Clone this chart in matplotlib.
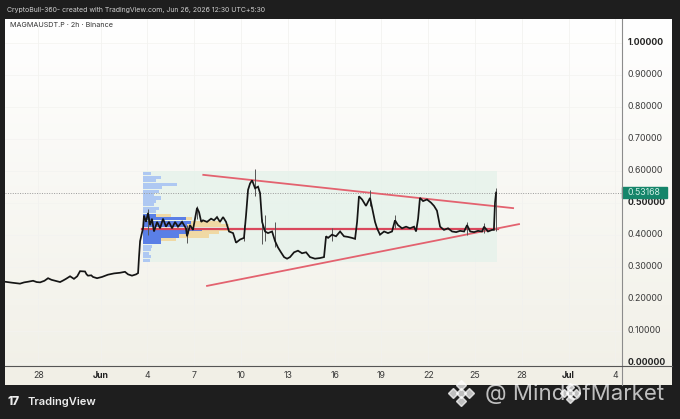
import numpy as np
import matplotlib
matplotlib.use("Agg")
from matplotlib import pyplot as plt

plt.rcParams['font.family'] = ['Inter', 'DejaVu Sans']

# ---- data (x = days since Jun 1, 00:00) ----
day = [-6.13, -5.68, -5.17, -4.9, -4.65, -4.33, -4.1, -3.88, -3.6, -3.37, -3.15, -2.92, -2.6, -2.4,
       -2.22, -1.96, -1.71, -1.5, -1.32, -1.0, -0.9, -0.81, -0.6, -0.49, -0.23, 0.09, 0.47, 0.86,
       1.24, 1.56, 1.76, 2.01, 2.27, 2.40, 2.46, 2.53, 2.62, 2.72, 2.78, 2.91, 3.04, 3.17, 3.29,
       3.42, 3.62, 3.81, 4.0, 4.19, 4.38, 4.58, 4.77, 4.96, 5.22, 5.47, 5.54, 5.73, 5.92, 6.05,
       6.18, 6.31, 6.45, 6.56, 6.82, 7.08, 7.27, 7.46, 7.65, 7.85, 8.04, 8.23, 8.49, 8.68, 8.94,
       9.19, 9.32, 9.45, 9.58, 9.71, 9.90, 10.09, 10.22, 10.35, 10.54, 10.73, 10.99, 11.18, 11.37,
       11.56, 11.76, 11.95, 12.14, 12.40, 12.65, 12.91, 13.17, 13.42, 13.74, 14.06, 14.32, 14.45,
       14.58, 14.83, 15.09, 15.35, 15.60, 15.86, 16.11, 16.31, 16.44, 16.56, 16.76, 17.01, 17.27,
       17.46, 17.59, 17.72, 17.91, 18.17, 18.42, 18.68, 18.87, 19.06, 19.32, 19.58, 19.83, 20.09,
       20.22, 20.35, 20.47, 20.67, 20.92, 21.18, 21.37, 21.56, 21.76, 22.01, 22.27, 22.53, 22.79,
       23.04, 23.30, 23.49, 23.69, 23.94, 24.19, 24.45, 24.58, 24.83, 25.09, 25.21, 25.28, 25.35]
close = [0.253, 0.250, 0.247, 0.251, 0.253, 0.256, 0.252, 0.251, 0.256, 0.264, 0.259, 0.256, 0.252, 0.257,
         0.262, 0.270, 0.262, 0.270, 0.286, 0.285, 0.276, 0.272, 0.273, 0.268, 0.264, 0.268, 0.275, 0.279,
         0.281, 0.284, 0.276, 0.272, 0.276, 0.280, 0.330, 0.380, 0.400, 0.420, 0.460, 0.440, 0.468, 0.430, 0.450,
         0.410, 0.440, 0.420, 0.450, 0.425, 0.440, 0.420, 0.440, 0.425, 0.440, 0.420, 0.395, 0.430, 0.415, 0.450,
         0.484, 0.470, 0.440, 0.445, 0.440, 0.450, 0.445, 0.455, 0.440, 0.455, 0.440, 0.410, 0.405, 0.375, 0.385,
         0.390, 0.460, 0.540, 0.560, 0.570, 0.545, 0.550, 0.530, 0.440, 0.410, 0.405, 0.410, 0.380, 0.360,
         0.345, 0.330, 0.325, 0.330, 0.345, 0.350, 0.342, 0.345, 0.330, 0.325, 0.327, 0.330, 0.395,
         0.390, 0.400, 0.395, 0.410, 0.395, 0.393, 0.390, 0.387, 0.440, 0.520, 0.510, 0.490, 0.515,
         0.470, 0.440, 0.420, 0.400, 0.410, 0.405, 0.410, 0.445, 0.430, 0.420, 0.425, 0.420, 0.425,
         0.410, 0.450, 0.515, 0.505, 0.510, 0.500, 0.490, 0.475, 0.425, 0.415, 0.420, 0.410, 0.408,
         0.412, 0.410, 0.430, 0.410, 0.408, 0.412, 0.410, 0.425, 0.410, 0.415, 0.415, 0.500, 0.53168]

wick_day = [3.04, 5.54, 6.18, 9.19, 9.90, 10.35, 10.54, 11.18, 14.83, 17.27, 18.87, 23.49, 24.58, 25.35]
wick_low = [0.40, 0.375, 0.45, 0.38, 0.52, 0.37, 0.38, 0.36, 0.38, 0.49, 0.42, 0.40, 0.405, 0.41]
wick_high = [0.48, 0.43, 0.49, 0.43, 0.605, 0.45, 0.46, 0.44, 0.42, 0.54, 0.46, 0.44, 0.435, 0.545]

last_price = 0.53168

# trendlines: (day, price) endpoints
upper_line = ([6.58, 26.44], [0.587, 0.483])
lower_line = ([6.82, 26.82], [0.240, 0.433])
flat_level = 0.418
flat_span = [2.66, 25.47]

# fixed range volume profile
vp_start, vp_end = 2.72, 25.42
vp_low, vp_high = 0.315, 0.600
vp_up = [8, 18, 13, 34, 19, 16, 11, 18, 13, 11, 16, 13,
         13, 43, 48, 44, 59, 46, 36, 18, 18,
         9, 8, 6, 8, 7]
vp_total = [8, 18, 13, 34, 19, 16, 11, 18, 13, 11, 16, 13,
            28, 49, 78, 86, 90, 76, 66, 33, 18,
            9, 8, 6, 8, 7]
vp_in_va = [False] * 12 + [True] * 9 + [False] * 5

price_ticks = [0.0, 0.1, 0.2, 0.3, 0.4, 0.5, 0.6, 0.7, 0.8, 0.9, 1.0]
time_ticks = [-4, 0, 3, 6, 9, 12, 15, 18, 21, 24, 27, 30, 33]
time_labels = ["28", "Jun", "4", "7", "10", "13", "16", "19", "22", "25", "28", "Jul", "4"]

# ---- layout (pixels) ----
W, H = 680, 419
fig = plt.figure(figsize=(W / 100, H / 100), dpi=100, facecolor="#1e1e1e")


def fax(x0, y0, x1, y1, **kw):
    return fig.add_axes([x0 / W, 1 - y1 / H, (x1 - x0) / W, (y1 - y0) / H], **kw)


px_day = 15.6
x0_day = -6.13
y_top, y_bot = 1.074, -0.0094

# panel background gradient
bg = fax(5, 19, 672, 385)
grad = np.linspace(0, 1, 256)[:, None, None]
c_top = np.array([1.0, 1.0, 1.0])
c_bot = np.array([0.945, 0.940, 0.905])
img = (c_top + (c_bot - c_top) * grad).repeat(2, axis=1)
bg.imshow(img, aspect="auto", extent=[0, 1, 0, 1], origin="upper")
bg.set_xlim(0, 1); bg.set_ylim(0, 1)
bg.axis("off")

ax = fax(5, 19, 621.7, 365.7)
ax.set_facecolor("none")
ax.set_xlim(x0_day, x0_day + (621.7 - 5) / px_day)
ax.set_ylim(y_bot, y_top)
ax.axis("off")

# faint grid
for t in time_ticks:
    ax.axvline(t, color="#f1f1ee", lw=0.5, zorder=0)
for p in price_ticks:
    ax.axhline(p, color="#f3f3f0", lw=0.5, zorder=0)

# range box
ax.fill_between([vp_start, vp_end], vp_low, vp_high, color="#e4f2ea", alpha=0.75, lw=0, zorder=1)

# volume profile rows
n = len(vp_up)
row_h = (vp_high - vp_low - 0.0045) / n
centers = vp_high - 0.0045 - row_h * (np.arange(n) + 0.5)
for c, u, tot, va in zip(centers, vp_up, vp_total, vp_in_va):
    up_col = "#5a7fe6" if va else "#aec8f2"
    dn_col = "#f0d9a4" if va else "#f6ebd0"
    ax.barh(c, u / px_day, left=vp_start, height=row_h * 0.9, color=up_col, lw=0, zorder=2)
    if tot > u:
        ax.barh(c, (tot - u) / px_day, left=vp_start + u / px_day, height=row_h * 0.9,
                color=dn_col, lw=0, zorder=2)

# last price dotted line
ax.axhline(last_price, color="#9a9a9a", lw=0.7, ls=(0, (1, 1.5)), zorder=3)

# trend lines
ax.plot(flat_span, [flat_level, flat_level], color="#d9485c", lw=1.6, zorder=4)
ax.plot(*upper_line, color="#e3626f", lw=1.3, zorder=4)
ax.plot(*lower_line, color="#e3626f", lw=1.3, zorder=4)

# price
ax.vlines(wick_day, wick_low, wick_high, color="#555555", lw=0.7, zorder=5)
ax.plot(day, close, color="#151515", lw=1.25, zorder=6, solid_joinstyle="miter")

# price axis
axp = fax(621.7, 19, 672, 365.7)
axp.set_facecolor("none")
axp.set_xlim(0, 1)
axp.set_ylim(y_bot, y_top)
axp.axis("off")
for p in price_ticks:
    bold = p in (0.0, 0.5, 1.0)
    axp.text(0.125, p, f"{p:.5f}", fontsize=6.3, color="#222222" if bold else "#3a3a3a",
             fontweight="bold" if bold else "normal", va="center", ha="left", clip_on=True)
axp.add_patch(plt.Rectangle((0.0, last_price - 0.018), 0.9, 0.036, color="#15856a", zorder=5,
                            clip_on=False))
axp.text(0.125, last_price + 0.001, f"{last_price:.5f}", fontsize=6.3, color="#cfeee4",
         va="center", ha="left", zorder=6)

# time axis
axt = fax(5, 365.7, 672, 385)
axt.set_facecolor("#f1efe6")
axt.set_xlim(x0_day, x0_day + (672 - 5) / px_day)
axt.set_ylim(0, 1)
axt.axis("off")
axt.add_patch(plt.Rectangle((x0_day, 0), 50, 1, color="#f1efe6", zorder=0))
for t, lab in zip(time_ticks, time_labels):
    bold = lab in ("Jun", "Jul")
    axt.text(t, 0.5, lab, fontsize=6.3, color="#222222" if bold else "#3a3a3a",
             fontweight="bold" if bold else "normal", ha="center", va="center")

# separators
fig.add_artist(plt.Line2D([621.7 / W, 621.7 / W], [1 - 385 / H, 1 - 19 / H], color="#8c8c8c", lw=0.8))
fig.add_artist(plt.Line2D([5 / W, 672 / W], [1 - 365.7 / H, 1 - 365.7 / H], color="#555555", lw=0.8))

# header texts
fig.text(7 / W, 1 - 10 / H, "CryptoBull-360- created with TradingView.com, Jun 26, 2026 12:30 UTC+5:30",
         fontsize=5.0, color="#cfcfcf", va="center", ha="left")
fig.text(10 / W, 1 - 25 / H, "MAGMAUSDT.P · 2h · Binance", fontsize=5.2, color="#333333",
         va="center", ha="left")

# TradingView logo
fig.text(27 / W, 1 - 402 / H, "TradingView", fontsize=8, color="#ececec", fontweight="semibold",
         va="center", ha="left")
fig.text(7 / W, 1 - 402 / H, "17", fontsize=8.5, color="#ececec", fontweight="heavy",
         va="center", ha="left")

# watermark
wm = dict(color="white", alpha=0.72)
fig.text(485 / W, 1 - 394 / H, "@ MindOfMarket", fontsize=16, va="center", ha="left", **wm)
for cx, cy, s in [(461, 393, 1.0), (570, 393, 0.8)]:
    off = 8 * s
    pts = [(cx, cy), (cx - off, cy), (cx + off, cy), (cx, cy - off), (cx, cy + off)]
    fig.add_artist(plt.Line2D([(q[0]) / W for q in pts], [1 - q[1] / H for q in pts], ls="none",
                              marker="D", markersize=5 * s, color="white", alpha=0.72))

fig.savefig("out.png", dpi=100, facecolor=fig.get_facecolor())
